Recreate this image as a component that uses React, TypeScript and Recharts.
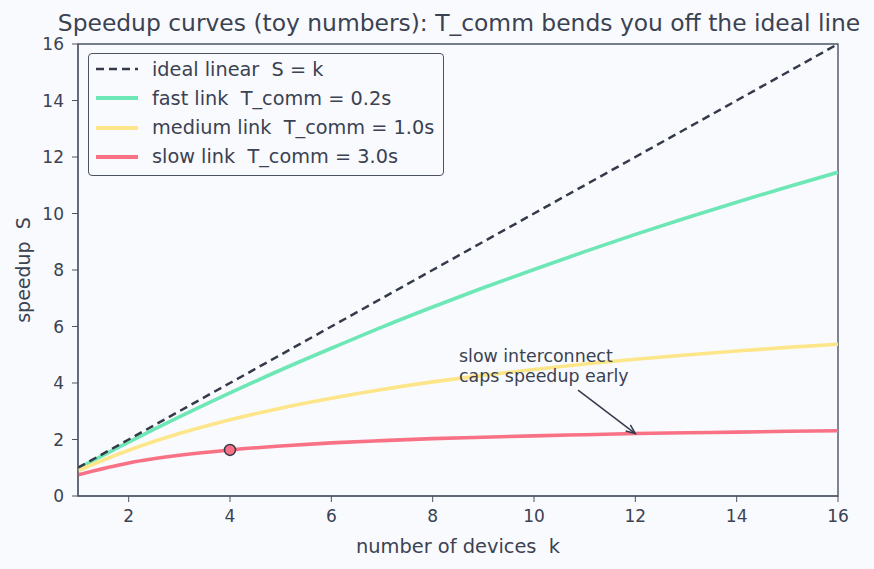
import React from "react"
import {
  LineChart,
  Line,
  XAxis,
  YAxis,
  ReferenceArea,
  ReferenceDot,
  ReferenceLine,
  Label,
} from "recharts"

// devices k and speedup per link type (toy numbers)
const devices = [1, 2, 3, 4, 5, 6, 7, 8, 9, 10, 11, 12, 13, 14, 15, 16]
const ideal = [1, 2, 3, 4, 5, 6, 7, 8, 9, 10, 11, 12, 13, 14, 15, 16]
const fast = [0.98, 1.91, 2.8, 3.65, 4.46, 5.23, 5.98, 6.69, 7.37, 8.02, 8.65, 9.26, 9.84, 10.4, 10.94, 11.46]
const medium = [0.9, 1.62, 2.21, 2.7, 3.11, 3.46, 3.77, 4.04, 4.27, 4.48, 4.67, 4.84, 4.99, 5.13, 5.26, 5.37]
const slow = [0.75, 1.17, 1.44, 1.63, 1.77, 1.88, 1.96, 2.03, 2.08, 2.13, 2.17, 2.21, 2.24, 2.26, 2.29, 2.31]

const xTicks = [2, 4, 6, 8, 10, 12, 14, 16]
const yTicks = [0, 2, 4, 6, 8, 10, 12, 14, 16]

const legendItems = [
  { label: "ideal linear  S = k", color: "#343a4a", dashed: true },
  { label: "fast link  T_comm = 0.2s", color: "#6ee7b7", dashed: false },
  { label: "medium link  T_comm = 1.0s", color: "#fde68a", dashed: false },
  { label: "slow link  T_comm = 3.0s", color: "#f87185", dashed: false },
]

const annotationLines = ["slow interconnect", "caps speedup early"]

const data = devices.map((k, i) => ({
  k,
  ideal: ideal[i],
  fast: fast[i],
  medium: medium[i],
  slow: slow[i],
}))

const TEXT = "#3b4252"
const SPINE = "#4b5363"
const FONT = "'DejaVu Sans', sans-serif"

function Arrow(props: any) {
  const { x1, y1, x2, y2 } = props
  const ang = Math.atan2(y2 - y1, x2 - x1)
  const len = 10
  const spread = 0.4
  const ax = x2 - len * Math.cos(ang - spread)
  const ay = y2 - len * Math.sin(ang - spread)
  const bx = x2 - len * Math.cos(ang + spread)
  const by = y2 - len * Math.sin(ang + spread)
  return (
    <g stroke="#343a4a" strokeWidth={1.5} fill="none">
      <line x1={x1} y1={y1} x2={x2} y2={y2} />
      <polyline points={`${ax},${ay} ${x2},${y2} ${bx},${by}`} />
    </g>
  )
}

function AnnotationText(props: any) {
  const { cx, cy } = props
  return (
    <text x={cx} y={cy} fill={TEXT} fontSize={17.4} fontFamily={FONT}>
      {annotationLines.map((t, i) => (
        <tspan key={t} x={cx} dy={i === 0 ? 0 : 20.6}>
          {t}
        </tspan>
      ))}
    </text>
  )
}

function LegendBox() {
  return (
    <div
      style={{
        position: "absolute",
        left: 88,
        top: 53,
        width: 356,
        height: 123,
        border: `1.3px solid ${SPINE}`,
        borderRadius: 4,
        background: "#f9fafd",
        boxSizing: "border-box",
        fontFamily: FONT,
        fontSize: 19.3,
        color: TEXT,
      }}
    >
      {legendItems.map((it, i) => (
        <div
          key={it.label}
          style={{ position: "absolute", left: 6, top: 4 + i * 29.3, height: 22, display: "flex", alignItems: "center" }}
        >
          <svg width={44} height={10} style={{ marginRight: 13 }}>
            <line
              x1={1}
              y1={5}
              x2={43}
              y2={5}
              stroke={it.color}
              strokeWidth={it.dashed ? 2.5 : 4}
              strokeDasharray={it.dashed ? "8 5" : undefined}
            />
          </svg>
          <span style={{ whiteSpace: "pre" }}>{it.label}</span>
        </div>
      ))}
    </div>
  )
}

export default function App() {
  return (
    <div style={{ position: "relative", width: 874, height: 569, background: "#f9fafd", overflow: "hidden" }}>
      <style>{"body{margin:0;background:#f9fafd}"}</style>
      <div
        style={{
          position: "absolute",
          left: 44,
          top: 10,
          width: 830,
          textAlign: "center",
          fontFamily: FONT,
          fontSize: 23.4,
          lineHeight: "27px",
          color: TEXT,
          whiteSpace: "pre",
        }}
      >
        Speedup curves (toy numbers): T_comm bends you off the ideal line
      </div>
      <LineChart
        width={874}
        height={569}
        data={data}
        margin={{ top: 44, right: 36, bottom: 43, left: 18 }}
        style={{ fontFamily: FONT }}
      >
        <XAxis
          dataKey="k"
          type="number"
          domain={[1, 16]}
          ticks={xTicks}
          allowDataOverflow
          height={30}
          tickSize={6}
          tickMargin={8}
          stroke={SPINE}
          tick={{ fontSize: 17, fill: TEXT }}
        >
          <Label value={"number of devices\u00a0\u00a0k"} position="bottom" offset={13} fill={TEXT} fontSize={19.4} />
        </XAxis>
        <YAxis
          type="number"
          domain={[0, 16]}
          ticks={yTicks}
          allowDataOverflow
          width={60}
          tickSize={6}
          tickMargin={8}
          stroke={SPINE}
          tick={{ fontSize: 17, fill: TEXT }}
        >
          <Label value={"speedup\u00a0\u00a0S"} angle={-90} position="insideLeft" offset={5} fill={TEXT} fontSize={19} style={{ textAnchor: "middle" }} />
        </YAxis>
        <ReferenceArea x1={1} x2={16} y1={0} y2={16} fill="none" stroke={SPINE} strokeWidth={1.4} />
        <Line type="monotone" dataKey="fast" stroke="#6ee7b7" strokeWidth={3.6} dot={false} isAnimationActive={false} />
        <Line type="monotone" dataKey="medium" stroke="#fde68a" strokeWidth={3.6} dot={false} isAnimationActive={false} />
        <Line type="monotone" dataKey="slow" stroke="#f87185" strokeWidth={3.6} dot={false} isAnimationActive={false} />
        <Line type="linear" dataKey="ideal" stroke="#343a4a" strokeWidth={2.5} strokeDasharray="8 5" dot={false} isAnimationActive={false} />
        <ReferenceDot x={4} y={slow[3]} r={5.5} fill="#f87185" stroke="#343a4a" strokeWidth={1.5} />
        <ReferenceLine
          segment={[
            { x: 10.87, y: 3.75 },
            { x: 12, y: slow[11] },
          ]}
          shape={Arrow}
        />
        <ReferenceDot x={8.52} y={4.75} r={0} shape={AnnotationText} />
      </LineChart>
      <LegendBox />
    </div>
  )
}
